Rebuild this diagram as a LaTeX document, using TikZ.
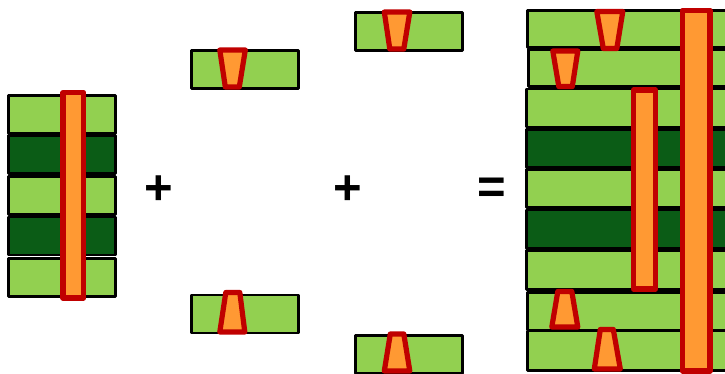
\documentclass[tikz,border=0pt]{standalone}
\usepackage{fontspec}
\setsansfont{Liberation Sans}
\definecolor{lightlayer}{HTML}{92D050}
\definecolor{darklayer}{HTML}{0B5C16}
\definecolor{viafill}{HTML}{FF9933}
\definecolor{viaedge}{HTML}{C00000}
\begin{document}
\begin{tikzpicture}[x=1pt,y=-1pt,
	layer/.style = {draw=black,line width=2.8pt,line join=round,inner sep=0pt,outer sep=0pt,anchor=north west,minimum height=38pt},
	light/.style = {layer,fill=lightlayer,minimum width=106.5pt},
	dark/.style = {layer,fill=darklayer,minimum width=106.5pt},
	long light/.style = {layer,fill=lightlayer,minimum width=210pt},
	long dark/.style = {layer,fill=darklayer,minimum width=210pt},
	via/.style = {draw=viaedge,fill=viafill,line width=5.2pt,line join=round},
	sign/.style = {font=\sffamily\bfseries\fontsize{49}{49}\selectfont,inner sep=0pt}]
	
	\useasboundingbox (0,0) rectangle (725,374);
	\clip (0,0) rectangle (725,374);
	
	% core
	\node[light] (c1) at (8.7,95.4) {};
	\node[dark] (c2) at (8.7,135.4) {};
	\node[light] (c3) at (8.7,176.2) {};
	\node[dark] (c4) at (8.7,217) {};
	\node[light] (c5) at (8.7,258.3) {};
	\draw[via] (63,92.5) rectangle (83.8,298);
	\node[sign] (plus1) at (159,190.5) {+};
	
	% first pair
	\node[light] (p1) at (191.6,50.4) {};
	\draw[via] (219.8,50) -- (245.3,50) -- (239.3,87) -- (225.3,87) -- cycle;
	\node[light] (p2) at (191.6,294.9) {};
	\draw[via] (225.8,292.5) -- (239.8,292.5) -- (244.8,332) -- (219.8,332) -- cycle;
	\node[sign] (plus2) at (348,190.5) {+};
	
	% second pair
	\node[light] (q1) at (355.8,12.2) {};
	\draw[via] (384.3,12) -- (409.8,12) -- (403.8,49) -- (389.8,49) -- cycle;
	\node[light] (q2) at (355.8,335.5) {};
	\draw[via] (390.3,334) -- (403.8,334) -- (409.8,371) -- (384.3,371) -- cycle;
	\node[sign] (equal) at (492,190.5) {=};
	
	% result
	\node[long light,minimum height=36.7pt] (r1) at (527.4,10.5) {};
	\node[long light,minimum height=37pt] (r2) at (528.7,49.5) {};
	\node[long light] (r3) at (526.4,89) {};
	\node[long dark] (r4) at (526.4,129.5) {};
	\node[long light] (r5) at (526.4,169.5) {};
	\node[long dark,minimum height=38.8pt] (r6) at (526.4,210) {};
	\node[long light,minimum height=38.7pt] (r7) at (526.4,250.8) {};
	\node[long light,minimum height=37.5pt] (r8) at (527.4,292.5) {};
	\node[long light,minimum height=39.5pt] (r9) at (527.4,331) {};
	\draw[via] (596.8,11.5) -- (622.8,11.5) -- (616.8,48.5) -- (603.3,48.5) -- cycle;
	\draw[via] (552.8,51) -- (577.8,51) -- (572.3,86.5) -- (558.8,86.5) -- cycle;
	\draw[via] (557.8,291.5) -- (571.8,291.5) -- (577.8,327) -- (551.8,327) -- cycle;
	\draw[via] (600.3,329.5) -- (613.3,329.5) -- (620.3,369) -- (594.3,369) -- cycle;
	\draw[via] (633.5,90) rectangle (655.5,289);
	\draw[via,line width=5.6pt] (682.5,10.5) rectangle (710,371);
	
\end{tikzpicture}
\end{document}
